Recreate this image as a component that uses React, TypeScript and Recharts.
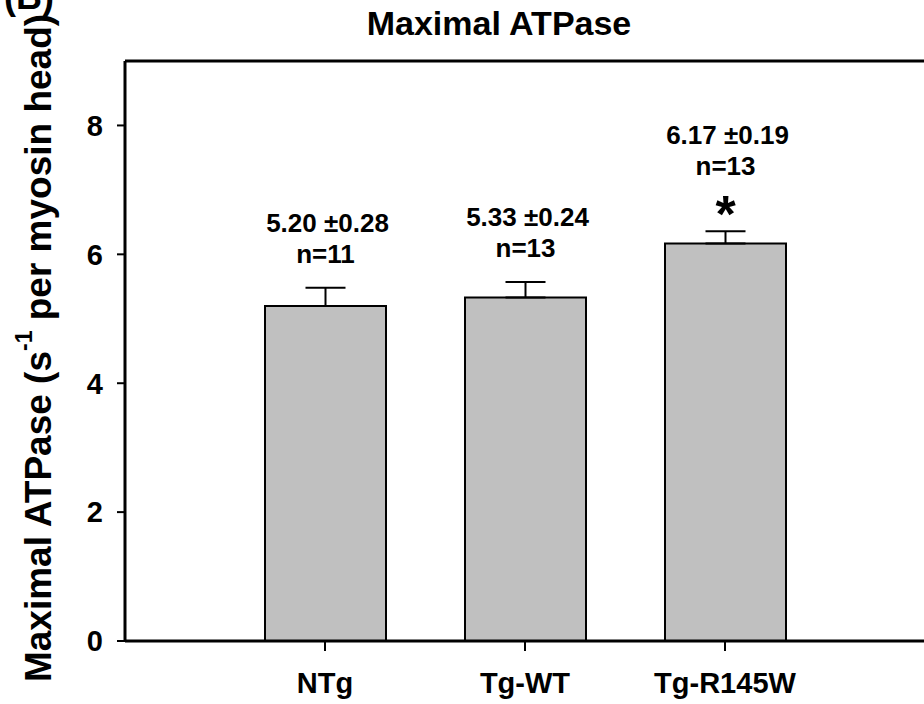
import { BarChart, Bar, XAxis, YAxis, ErrorBar, LabelList, ReferenceLine } from 'recharts'

const groups = ['NTg', 'Tg-WT', 'Tg-R145W']
const means = [5.2, 5.33, 6.17]
const sems = [0.28, 0.24, 0.19]
const counts = [11, 13, 13]
const starred = [false, false, true]
const yTicks = [0, 2, 4, 6, 8]

const FONT = '"Liberation Sans", Arial, sans-serif'

const data = groups.map((g, i) => ({ name: g, mean: means[i], err: [0, sems[i]] }))

// stacked text above each error bar: mean ± sem, n, and a star when significant
function Annotation(props: any) {
  const { x, y, width, height, index } = props
  const perUnit = height / means[index]
  const capY = y - sems[index] * perUnit
  const cx = x + width / 2
  const lift = starred[index] ? 31 : 0
  return (
    <g fontFamily={FONT} fontWeight="bold" fill="#000" textAnchor="middle">
      <text x={cx + 2} y={capY - 56 - lift} fontSize={26}>
        {`${means[index].toFixed(2)} ±${sems[index].toFixed(2)}`}
      </text>
      <text x={cx} y={capY - 25 - lift} fontSize={26}>{`n=${counts[index]}`}</text>
      {starred[index] && (
        <text x={cx} y={capY + 1} fontSize={52}>*</text>
      )}
    </g>
  )
}

function YTitle() {
  const cx = 38
  const cy = 348
  return (
    <text
      x={cx}
      y={cy}
      transform={`rotate(-90 ${cx} ${cy})`}
      textAnchor="middle"
      dominantBaseline="central"
      fontFamily={FONT}
      fontWeight="bold"
      fontSize={37}
      fill="#000"
    >
      Maximal ATPase (s<tspan fontSize={23} dy={-14}>-1</tspan>
      <tspan dy={14}> per myosin head)</tspan>
    </text>
  )
}

export default function App() {
  return (
    <div style={{ position: 'fixed', left: 0, top: 0, width: 924, height: 704, overflow: 'hidden', background: '#fff' }}>
      <svg style={{ position: 'absolute', left: 0, top: 0 }} width={924} height={704}>
        <text x={4} y={9} fontFamily={FONT} fontWeight="bold" fontSize={36}>(B)</text>
        <text x={499} y={35} textAnchor="middle" fontFamily={FONT} fontWeight="bold" fontSize={34}>
          Maximal ATPase
        </text>
        <YTitle />
      </svg>
      <div style={{ position: 'absolute', left: 0, top: 0 }}>
        <BarChart
          width={940}
          height={704}
          data={data}
          margin={{ top: 61, right: 15, bottom: 23, left: 0 }}
          barCategoryGap={0}
        >
          <XAxis
            dataKey="name"
            height={40}
            padding={{ left: 100, right: 100 }}
            axisLine={{ stroke: '#000', strokeWidth: 3 }}
            tickLine={{ stroke: '#000', strokeWidth: 2 }}
            tickSize={10}
            tick={{ fill: '#000', fontSize: 29, fontWeight: 'bold', fontFamily: FONT, dy: 19 }}
          />
          <YAxis
            width={125}
            domain={[0, 9]}
            ticks={yTicks}
            interval={0}
            axisLine={{ stroke: '#000', strokeWidth: 3 }}
            tickLine={{ stroke: '#000', strokeWidth: 2 }}
            tickSize={8}
            tick={{ fill: '#000', fontSize: 29, fontWeight: 'bold', fontFamily: FONT, dx: -12 }}
          />
          <ReferenceLine y={9} stroke="#000" strokeWidth={3} />
          <Bar dataKey="mean" fill="#c0c0c0" stroke="#000" strokeWidth={2} barSize={121} isAnimationActive={false}>
            <ErrorBar dataKey="err" width={20} stroke="#000" strokeWidth={2} direction="y" />
            <LabelList dataKey="mean" content={<Annotation />} />
          </Bar>
        </BarChart>
      </div>
    </div>
  )
}
